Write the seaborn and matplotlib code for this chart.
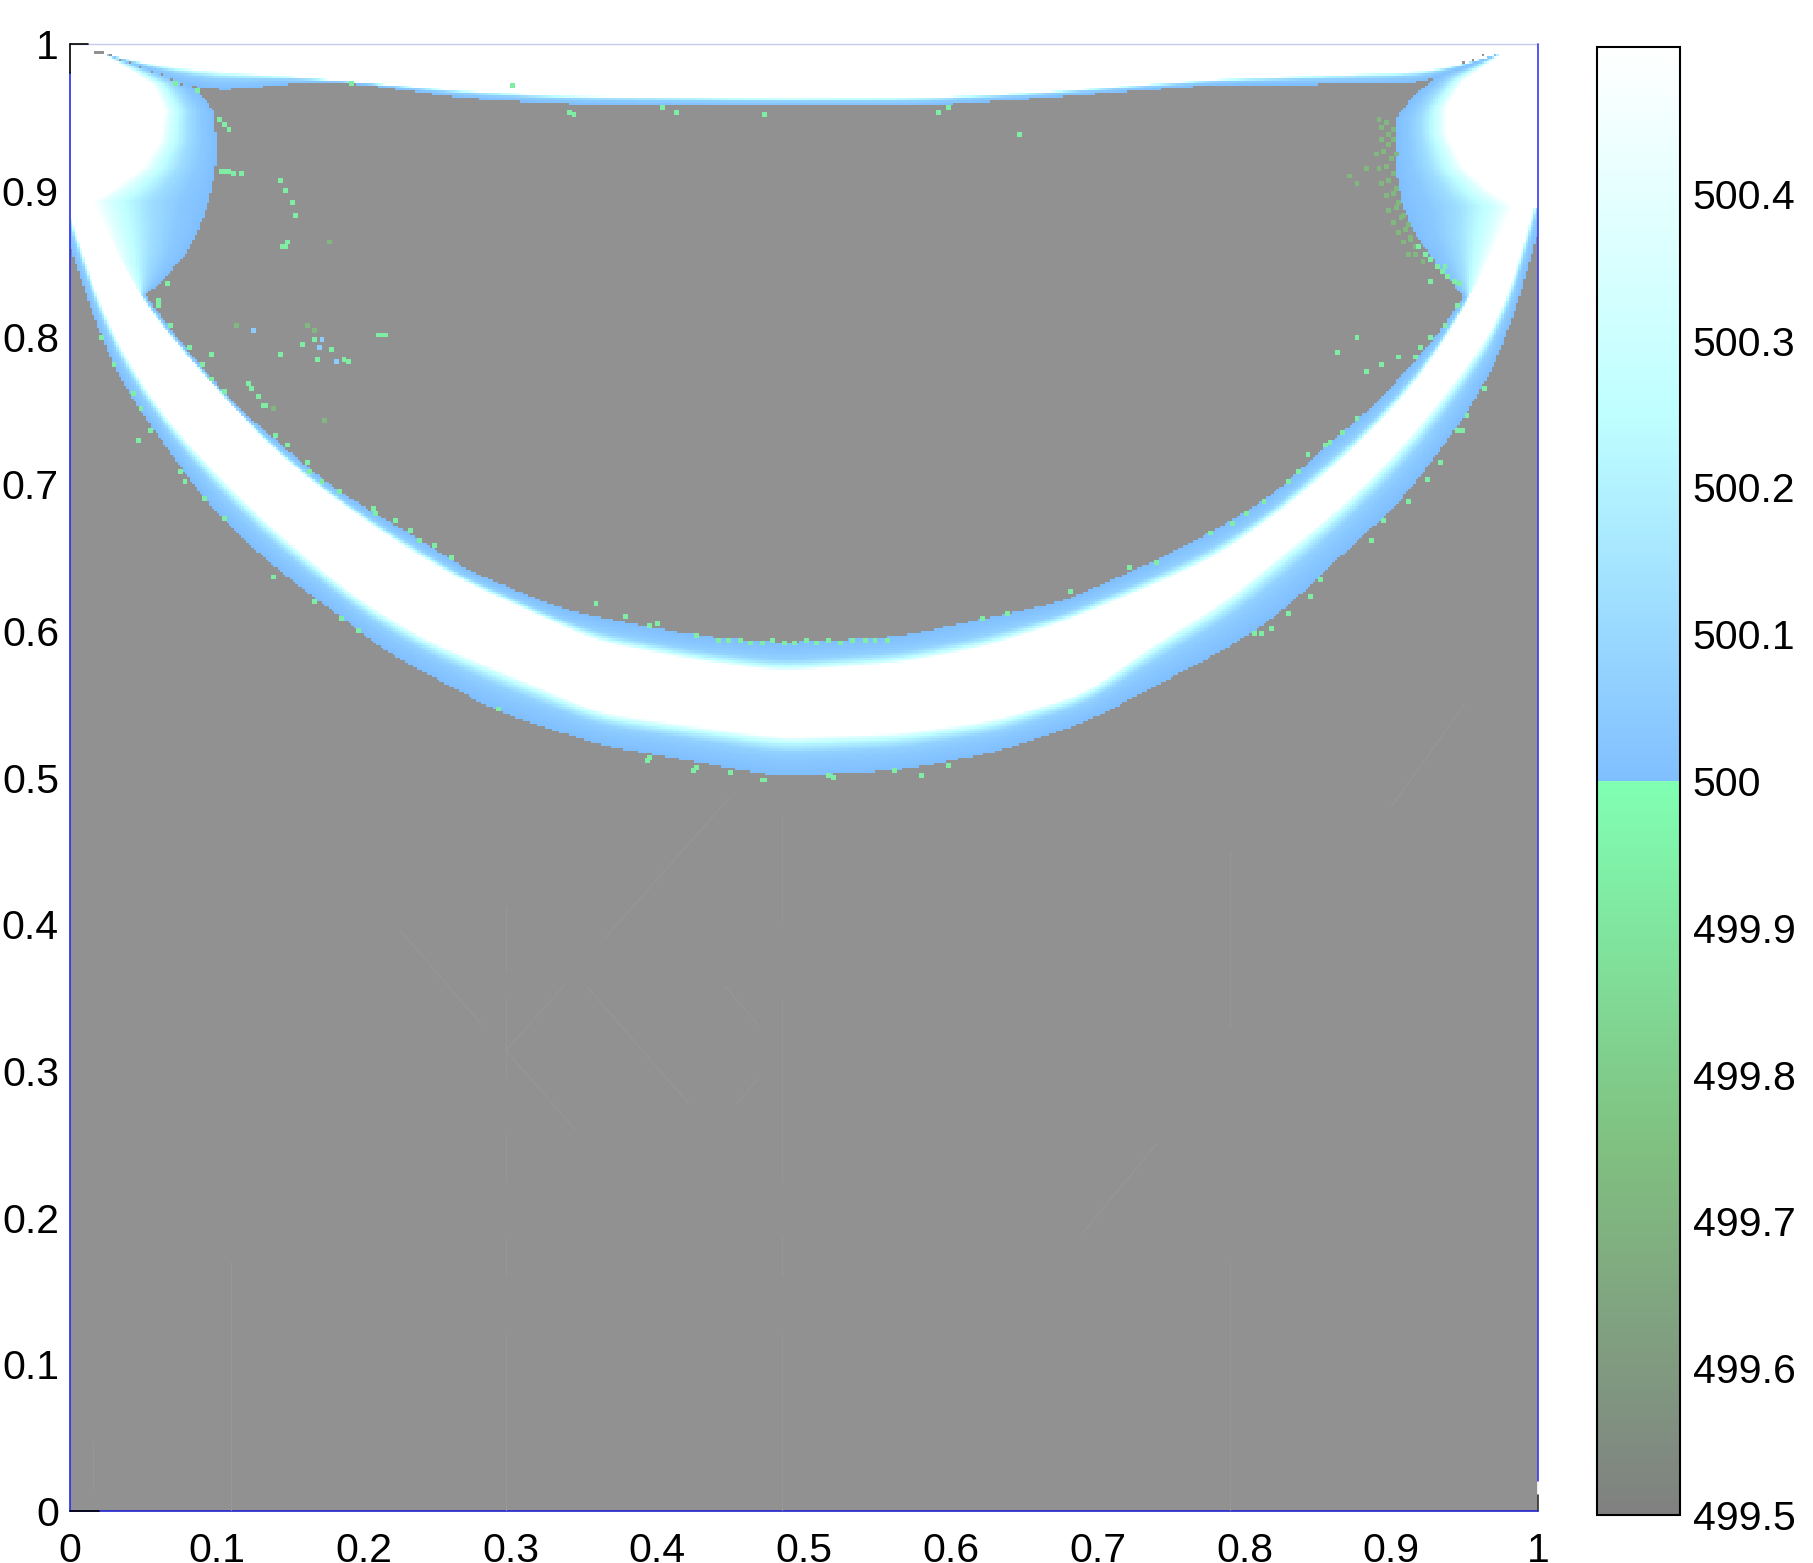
import numpy as np
import matplotlib
matplotlib.use("Agg")
import matplotlib.pyplot as plt
from matplotlib.colors import LinearSegmentedColormap
import seaborn as sns

# ---- read-off level curves of the field (x, y in axis units) ----
outer_x = [0, .0114, .0272, .0431, .059, .084, .1158, .15, .1885, .2112, .291, .361, .4837, .565, .63, .693, .735, .788,
           .815, .8424, .872, .906, .9285, .9582, .976, .9889, 1.0]
outer_y = [.862, .8255, .7823, .7551, .7358, .698, .664, .6345, .607, .588, .545, .522, .5005, .505, .517, .538, .56, .588,
           .605, .6278, .6573, .687, .7164, .7573, .7914, .8255, .872]
wlow_x = [0, .017, .0465, .068, .0954, .1294, .1635, .1975, .243, .361, .4837, .565, .63, .693, .7357, .788, .8266, .8604,
          .8947, .9285, .9626, .982, 1.0]
wlow_y = [.885, .8255, .771, .7415, .7118, .6778, .648, .621, .5937, .544, .527, .53, .539, .558, .5892, .621, .653, .68,
          .712, .7505, .795, .8255, .9]
wup_x = [.0159, .0477, .084, .1067, .1385, .1748, .22, .2657, .331, .361, .425, .4837, .565, .62, .677, .7357, .7811, .8266,
         .872, .9174, .9537, .983]
wup_y = [.8925, .8255, .7823, .7573, .7233, .6939, .662, .6346, .605, .592, .58, .572, .578, .588, .606, .63, .6505, .6828,
         .7211, .769, .8255, .889]
inner_x = [.0159, .0522, .0817, .111, .1385, .1748, .2112, .243, .2657, .331, .361, .425, .4837, .565, .677, .7357,
           .7698, .8015, .8266, .8583, .881, .9128, .9354, .949, .983]
inner_y = [.8925, .8255, .7893, .7551, .7314, .7007, .6778, .6598, .6437, .616, .609, .597, .5917, .596, .62, .6462,
           .6633, .6812, .698, .73, .746, .78, .806, .8255, .889]

topw_x = [.0227, .0545, .1, .157, .19, .268, .339, .488, .583, .661, .78, .921, .949, .976]
topw_y = [.9935, .986, .981, .9775, .9746, .968, .9645, .963, .9635, .967, .976, .981, .986, .9945]
topb_x = [.0227, .055, .0817, .104, .157, .19, .268, .339, .488, .583, .661, .78, .921, .949, .976]
topb_y = [.9935, .981, .9707, .968, .9735, .9735, .963, .959, .9575, .958, .963, .972, .973, .984, .9945]

lobeL_edge_y = [.828, .842, .857, .876, .894, .914, .9325, .955, .964, .974, .984, .9935]
lobeL_edge_x = [.051, .066, .079, .0886, .095, .099, .0999, .0976, .0908, .0795, .052, .0227]
lobeL_white_y = [.828, .85, .8925, .9025, .916, .934, .955, .972, .981, .9935]
lobeL_white_x = [.0477, .034, .0159, .0318, .05, .0613, .0647, .0568, .043, .0227]
lobeL_join = .8925

lobeR_edge_y = [.8255, .844, .869, .889, .9115, .9295, .95, .9645, .978, .984, .9945]
lobeR_edge_x = [.9514, .9355, .917, .908, .9037, .9025, .9037, .915, .931, .949, .976]
lobeR_white_y = [.8255, .85, .889, .90, .916, .939, .957, .975, .981, .9945]
lobeR_white_x = [.9537, .965, .983, .967, .949, .9378, .9378, .949, .958, .976]
lobeR_join = .889

band_t = [0, .35, .6, .8, .92, 1]
band_v = [500.0, 500.03, 500.07, 500.2, 500.33, 500.5]
lobe_t = [0, .25, .5, .75, .9, 1]
lobe_v = [500.0, 500.04, 500.12, 500.26, 500.38, 500.5]

# ---- isolated cells ----
bright_x = [.102, .105, .108, .111, .115, .142, .146, .15, .153, .122, .13,
            .339, .343, .402, .413, .472, .59, .598, .646, .358, .394, .425,
            .44, .447, .455, .462, .47, .478, .485, .493, .5, .508, .516, .524, .532, .54, .548, .556,
            .62, .637, .68, .72, .291, .394, .425, .472, .579, .598, .811, .07, .085, .19, .3,
            .1657, .211, .2135, .2085, .178, .186, .1896, .168, .1567, .143, .0965, .1204, .1226, .127, .1317,
            .144, .146, .148,
            .059, .067, .0806, .0886, .0954, .1044, .1385, .1476, .16, .1624, .1703, .1817, .2055, .2077, .2202,
            .2316, .2373, .2475, .2588,
            .0204, .0295, .042, .0477, .0545, .0465, .0738, .0783, .0908, .1044, .1374, .1658, .184, .1953,
            .7391, .7766, .7902, .8004, .8129, .8288, .8356, .8425, .8538, .8583, .8663, .8765, .915, .9196, .9264,
            .9354, .9434, .8833, .8924, .9049, .8628, .8765,
            .9627, .947, .9514, .9446, .9332, .9241, .9105, .8946, .8856, .8515, .8436, .8288, .8174, .8061,
            .3767, .3994, .393, .4245, .4484, .4711, .5156, .5186, .561, .066, .0586, .1, .104, .108,
            .918, .922, .926, .93, .934, .938, .942, .946, .925, .936]
bright_y = [.914, .914, .914, .913, .913, .908, .90, .892, .884, .766, .754,
            .955, .953, .957, .955, .953, .955, .957, .939, .619, .604, .598,
            .594, .595, .594, .593, .593, .594, .593, .593, .594, .593, .594, .593, .594, .594, .595, .595,
            .609, .612, .628, .645, .548, .514, .507, .499, .503, .51, .60, .975, .97, .974, .972,
            .7994, .803, .803, .803, .792, .7857, .784, .785, .796, .7896, .789, .7699, .7653, .761, .755,
            .863, .863, .866,
            .822, .8085, .7937, .7824, .7733, .7642, .7335, .7267, .7165, .7097, .7028, .696, .6847, .6801, .6756,
            .6687, .663, .6597, .6505,
            .8005, .7823, .7619, .7528, .7369, .7312, .7085, .7028, .6915, .6778, .637, .621, .6085, .6006,
            .6471, .6676, .6744, .6801, .6892, .7017, .7097, .7211, .7268, .7289, .7358, .746, .7868, .7948, .8005,
            .8096, .822, .7767, .7824, .7868, .7903, .8005,
            .7664, .7378, .747, .7378, .7164, .7049, .6892, .6756, .6631, .6358, .6245, .6131, .603, .5995,
            .6108, .606, .5133, .5065, .504, .4985, .503, .5015, .5065, .837, .8255, .9495, .946, .942,
            .862, .858, .854, .85, .846, .842, .84, .838, .84, .85]
dull_x = [.89, .892, .895, .898, .90, .893, .897, .901, .889, .894, .899, .902, .891, .896, .90, .893, .898, .902,
          .896, .90, .904, .898, .903, .907, .901, .906, .91, .904, .909, .913, .907, .912, .916, .911, .915, .92,
          .175, .161, .165, .172, .1124, .1374, .87, .875, .882]
dull_y = [.95, .945, .948, .94, .943, .935, .932, .936, .925, .927, .922, .926, .915, .917, .912, .905, .908, .903,
          .897, .899, .893, .888, .889, .885, .88, .882, .877, .873, .874, .87, .866, .867, .862, .858, .857, .852,
          .866, .8096, .806, .745, .8085, .7528, .91, .905, .915]
blue_x = [.1703, .1805, .1693, .1249]
blue_y = [.7994, .784, .7937, .8062]
gap_x = [.0275, .034, .041, .048, .055, .062, .069, .076, .962, .955, .949]
gap_y = [.992, .9895, .987, .984, .9815, .979, .976, .973, .992, .989, .987]

# faint straight traces in the background (x0, y0, x1, y1)
trace_x0 = [.297, .297, .297, .297, .297, .485, .485, .485, .485, .11, .016, .2248, .297, .297, .364, .3525, .4458, .4537,
            .79, .79, .69, .90]
trace_y0 = [.412, .35, .258, .187, .12, .474, .348, .187, .12, .0, .015, .396, .314, .314, .39, .357, .358, .2774,
            .0, .33, .19, .48]
trace_x1 = [.297, .297, .297, .297, .297, .485, .485, .485, .485, .11, .016, .2807, .337, .344, .449, .4217, .4687, .4687,
            .79, .79, .74, .95]
trace_y1 = [.368, .296, .224, .161, .0, .403, .224, .16, .0, .17, .047, .331, .3586, .26, .486, .2774, .3316, .2944,
            .17, .45, .25, .55]

# ---- colour scale and ticks ----
cmap_pos = [0, .25, .4999, .5001, .75, 1]
cmap_col = ["#808080", "#80c080", "#80ffb3", "#80bfff", "#bfffff", "#ffffff"]
vmin, vmax = 499.5, 500.5
axis_ticks = [0, .1, .2, .3, .4, .5, .6, .7, .8, .9, 1]
axis_labels = ["0", "0.1", "0.2", "0.3", "0.4", "0.5", "0.6", "0.7", "0.8", "0.9", "1"]
cbar_ticks = [499.5, 499.6, 499.7, 499.8, 499.9, 500, 500.1, 500.2, 500.3, 500.4]
cbar_labels = ["499.5", "499.6", "499.7", "499.8", "499.9", "500", "500.1", "500.2", "500.3", "500.4"]

# ---- assemble the field on a grid ----
N = 600
xc = (np.arange(N) + .5) / N
yc = 1 - (np.arange(N) + .5) / N
X, Y = np.meshgrid(xc, yc)


def ramp(t, tp, vp):
    return np.interp(t, tp, vp)


def smooth(v, k=8):
    for _ in range(2):
        pad = np.r_[2 * v[0] - v[k:0:-1], v, 2 * v[-1] - v[-2:-k - 2:-1]]
        w = np.ones(2 * k + 1) / (2 * k + 1)
        v = np.convolve(pad, w, mode="valid")
    return v


def curve(xs, ys, outside=None):
    v = np.interp(xc, xs, ys)
    inside = (xc >= xs[0]) & (xc <= xs[-1])
    v[inside] = smooth(v[inside])
    if outside is not None:
        v[~inside] = outside
    return v[None, :]


o = curve(outer_x, outer_y)
wl = curve(wlow_x, wlow_y)
wu = curve(wup_x, wup_y, 1.01)
inn = curve(inner_x, inner_y, 1.02)
inn = np.maximum(inn, wu + 1e-3)
F = np.full(X.shape, np.nan)
m = (Y >= o) & (Y < wl)
F[m] = ramp(((Y - o) / (wl - o))[m], band_t, band_v)
m = (Y >= wl) & (Y <= wu)
F[m] = 500.5
m = (Y > wu) & (Y <= inn)
F[m] = ramp(((inn - Y) / (inn - wu))[m], band_t, band_v)

tw = curve(topw_x, topw_y, .9945)
tb = curve(topb_x, topb_y, .9945)
G = np.full(X.shape, np.nan)
G[Y >= tw] = 500.5
m = (Y >= tb) & (Y < tw)
G[m] = ramp(((Y - tb) / np.maximum(tw - tb, 1e-4))[m], band_t, band_v)
F = np.fmax(F, G)

for ey, ex, wy, wx, join, left in [
    (lobeL_edge_y, lobeL_edge_x, lobeL_white_y, lobeL_white_x, lobeL_join, True),
    (lobeR_edge_y, lobeR_edge_x, lobeR_white_y, lobeR_white_x, lobeR_join, False),
]:
    e = np.interp(yc, ey, ex)[:, None]
    w = np.interp(yc, wy, wx)[:, None]
    rows = (Y >= ey[0]) & (Y <= ey[-1])
    H = np.full(X.shape, np.nan)
    s = 1 if left else -1
    H[rows & (Y >= join) & (s * (X - w) <= 0)] = 500.5
    m = rows & (s * (X - w) > 0) & (s * (X - e) <= 0)
    H[m] = ramp(((e - X) / np.where(np.abs(e - w) < 1e-4, 1e-4, e - w))[m], lobe_t, lobe_v)
    F = np.fmax(F, H)


def put(xs, ys, value, size=2):
    for a, b in zip(xs, ys):
        j = int(a * N)
        i = int((1 - b) * N)
        F[i:i + size, j:j + size] = value


put(dull_x, dull_y, 499.72)
put(bright_x, bright_y, 499.93)
put(blue_x, blue_y, 500.05)
put(gap_x, gap_y, np.nan, 1)

# ---- draw ----
sns.set_theme(style="white")
plt.rcParams["font.family"] = ["Liberation Sans", "DejaVu Sans"]
W, H_ = 1813, 1563
fig = plt.figure(figsize=(W / 100, H_ / 100), dpi=100)
ax = fig.add_axes([70 / W, 1 - 1511 / H_, 1468 / W, 1467 / H_])
cax = fig.add_axes([1597 / W, 1 - 1515 / H_, 83 / W, 1468 / H_])
cmap = LinearSegmentedColormap.from_list("field", list(zip(cmap_pos, cmap_col)), N=2048)
ax.set_facecolor("#919191")
sns.heatmap(F, ax=ax, cmap=cmap, vmin=vmin, vmax=vmax, cbar=True, cbar_ax=cax,
            xticklabels=False, yticklabels=False, square=False, linewidths=0,
            cbar_kws={"ticks": cbar_ticks})
ax.set_xticks([t * N for t in axis_ticks])
ax.set_xticklabels(axis_labels, rotation=0)
ax.set_yticks([(1 - t) * N for t in axis_ticks])
ax.set_yticklabels(axis_labels, rotation=0)
ax.tick_params(axis="both", length=0, labelsize=29.5, colors="black")
ax.tick_params(axis="x", pad=15)
ax.tick_params(axis="y", pad=8)
for sp in ax.spines.values():
    sp.set_visible(False)
for a, b, c, d in zip(trace_x0, trace_y0, trace_x1, trace_y1):
    ax.plot([a * N, c * N], [(1 - b) * N, (1 - d) * N], color="#999999", lw=.6, zorder=2.5)
tr = ax.transAxes
lw = 1.2
ax.plot([0, 1], [1, 1], color="#c8c8f0", lw=1, transform=tr, clip_on=False)
ax.plot([0, .012], [1, 1], color="black", lw=lw, transform=tr, clip_on=False)
ax.plot([0, 0], [0, .98], color="#2a2af0", lw=lw, transform=tr, clip_on=False)
ax.plot([0, 0], [.98, 1], color="black", lw=lw, transform=tr, clip_on=False)
ax.plot([1, 1], [.02, 1], color="#3a3af0", lw=lw, transform=tr, clip_on=False)
ax.plot([1, 1], [.011, .02], color="white", lw=lw, transform=tr, clip_on=False)
ax.plot([1, 1], [0, .011], color="#333333", lw=lw, transform=tr, clip_on=False)
ax.plot([0, 1], [0, 0], color="#2020d0", lw=lw, transform=tr, clip_on=False)
ax.plot([0, .02], [0, 0], color="black", lw=lw, transform=tr, clip_on=False)

cb = ax.collections[0].colorbar
cb.set_ticks(cbar_ticks)
cb.set_ticklabels(cbar_labels)
cb.outline.set_visible(True)
cb.outline.set_edgecolor("black")
cb.outline.set_linewidth(1.5)
cb.ax.tick_params(axis="y", which="major", direction="in", left=True, right=True, length=11, width=1.4,
                  color="black", labelsize=29.5, labelcolor="black", pad=9)
fig.savefig("out.png", dpi=100, facecolor="white")
